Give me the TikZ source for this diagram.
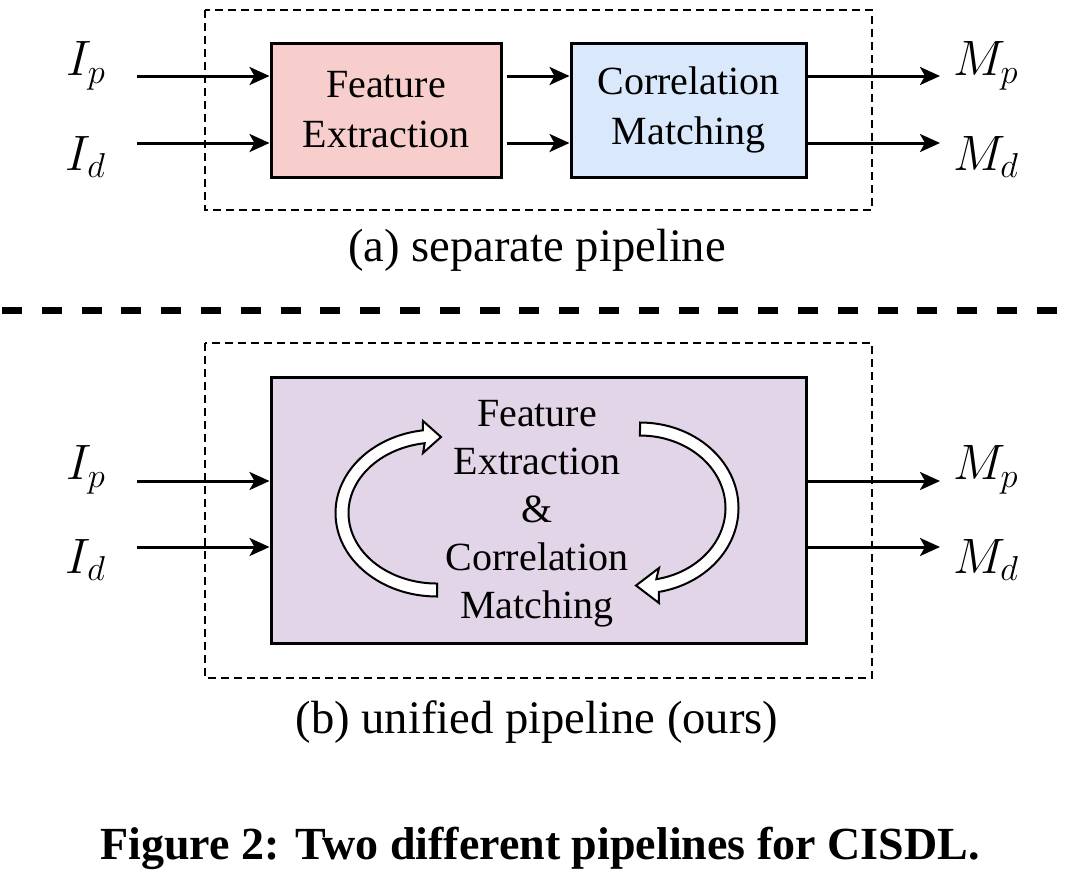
\documentclass[tikz,border=0pt]{standalone}
\usepackage{fontspec}
\setmainfont{Liberation Serif}
\usetikzlibrary{positioning, arrows.meta}

\definecolor{featpink}{HTML}{F8CECC}
\definecolor{corrblue}{HTML}{DAE8FC}
\definecolor{unipurple}{HTML}{E1D5E7}

\begin{document}
\begin{tikzpicture}[
    x=0.5pt, y=-0.5pt,
    % Style definitions
    stage/.style={
        rectangle, draw=black, line width=1.5pt,
        minimum height=67pt, inner sep=0pt,
        font=\fontsize{20}{25}\selectfont, align=center
    },
    featbox/.style={
        stage, fill=featpink, minimum width=115pt
    },
    corrbox/.style={
        stage, fill=corrblue, minimum width=117.5pt
    },
    unibox/.style={
        stage, fill=unipurple, minimum width=267.5pt, minimum height=133pt
    },
    unitext/.style={
        font=\fontsize{20}{24}\selectfont, align=center, inner sep=0pt
    },
    sym/.style={
        font=\fontsize{23.5}{28}\selectfont
    },
    flow/.style={
        -{Stealth[length=10pt, width=9pt, inset=2.5pt]}, line width=1.5pt
    },
    groupbox/.style={
        draw=black, line width=1.3pt, dash pattern=on 4pt off 2.5pt
    },
    sepline/.style={
        draw=black, line width=3.5pt, dash pattern=on 10pt off 9.9pt
    },
    cyclearrow/.style={
        draw=black, fill=white, line width=1pt, line join=miter
    },
    subcap/.style={
        font=\fontsize{23.3}{27}\selectfont
    },
    figcap/.style={
        font=\fontsize{23}{27}\selectfont\bfseries
    },
]

\useasboundingbox (0,0) rectangle (1076,879);

% Column positions
\def\xin{137}
\def\xout{940}

% Row positions (top to bottom)
\def\rowAp{76}
\def\rowAd{143}
\def\rowBp{481}
\def\rowBd{547}

% === (a) separate pipeline ===
\draw[groupbox] (205,10) rectangle (872,210);
\node[featbox] (fe) at (386,110) {Feature\\Extraction};
\node[corrbox] (cm) at (688.5,110) {Correlation\\Matching};

\coordinate (inAp) at (\xin,\rowAp);
\coordinate (inAd) at (\xin,\rowAd);
\coordinate (outAp) at (\xout,\rowAp);
\coordinate (outAd) at (\xout,\rowAd);

\node[sym] (lIpA) at (86,66) {$I_p$};
\node[sym] (lIdA) at (86,157) {$I_d$};
\node[sym] (lMpA) at (986,66) {$M_p$};
\node[sym] (lMdA) at (986,157) {$M_d$};

\foreach \c in {inAp, inAd} {
    \draw[flow] (\c) -- (\c -| fe.west);
    \draw[flow, shorten <=2pt] (fe.east |- \c) -- (cm.west |- \c);
}
\draw[flow] (cm.east |- outAp) -- (outAp);
\draw[flow] (cm.east |- outAd) -- (outAd);

\node[subcap] (capA) at (537,250) {(a) separate pipeline};

% === separator ===
\draw[sepline] (2,310) -- (1076,310);

% === (b) unified pipeline ===
\draw[groupbox] (205,343) rectangle (872,678);
\node[unibox] (uni) at (538.5,510) {};
\node[unitext] (unitxt) at (537,514)
    {Feature\\Extraction\\\&\\Correlation\\Matching};

\coordinate (inBp) at (\xin,\rowBp);
\coordinate (inBd) at (\xin,\rowBd);
\coordinate (outBp) at (\xout,\rowBp);
\coordinate (outBd) at (\xout,\rowBd);

\node[sym] (lIpB) at (86,470) {$I_p$};
\node[sym] (lIdB) at (86,560) {$I_d$};
\node[sym] (lMpB) at (986,470) {$M_p$};
\node[sym] (lMdB) at (986,560) {$M_d$};

\foreach \c in {inBp, inBd}
    \draw[flow] (\c) -- (\c -| uni.west);
\foreach \c in {outBp, outBd}
    \draw[flow] (uni.east |- \c) -- (\c);

% cycle arrows inside the unified box
\draw[cyclearrow] (437,596.5)
    arc[start angle=90, end angle=262, x radius=101.5, y radius=83.5]
    -- (423,421) -- (441,437) -- (423,453) -- (424.7,443.2)
    arc[start angle=262, end angle=90, x radius=88.5, y radius=70.5]
    -- cycle;
\draw[cyclearrow] (640,422.5)
    arc[start angle=270, end angle=439, x radius=98.5, y radius=85.5]
    -- (659,603) -- (636,585.5) -- (659,568) -- (656.3,579.2)
    arc[start angle=439, end angle=270, x radius=85.5, y radius=72.5]
    -- cycle;

\node[subcap] (capB) at (537,722) {(b) unified pipeline (ours)};

% === figure caption ===
\node[figcap] (fig) at (540,848) {Figure 2: Two different pipelines for CISDL.};

\end{tikzpicture}
\end{document}
